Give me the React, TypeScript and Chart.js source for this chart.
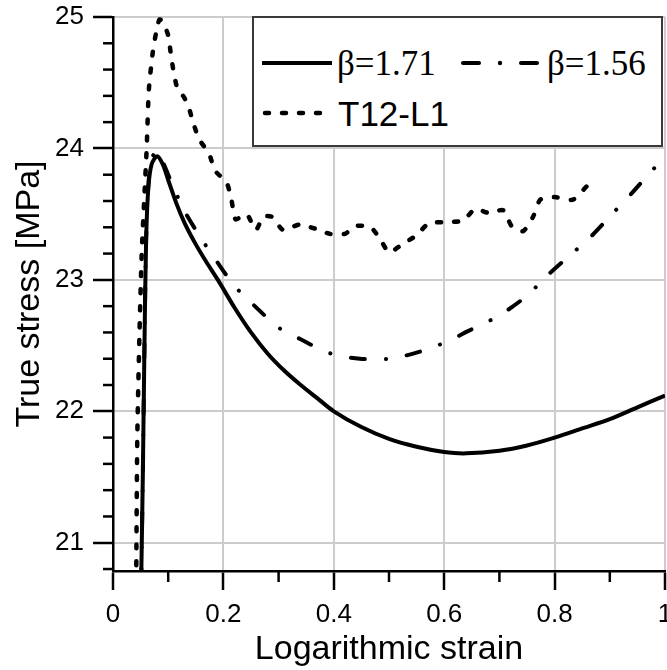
import React, { useEffect, useRef } from "react";
import { Chart, registerables } from "chart.js";
Chart.register(...registerables);

// beta = 1.71 (solid)
const strain171 = [0.051, 0.054, 0.057, 0.06, 0.064, 0.07, 0.08, 0.09, 0.1, 0.115, 0.13, 0.15, 0.17, 0.19, 0.22, 0.25, 0.28, 0.31, 0.34, 0.37, 0.4, 0.45, 0.5, 0.55, 0.6, 0.64, 0.7, 0.75, 0.8, 0.85, 0.9, 0.95, 1.0];
const stress171 = [20.7, 21.5, 22.5, 23.3, 23.7, 23.88, 23.94, 23.88, 23.76, 23.58, 23.43, 23.27, 23.13, 23.0, 22.79, 22.6, 22.44, 22.31, 22.2, 22.1, 22.0, 21.88, 21.79, 21.73, 21.69, 21.68, 21.7, 21.74, 21.8, 21.87, 21.94, 22.03, 22.12];

// beta = 1.56 (dash-dot)
const strain156 = [0.051, 0.054, 0.057, 0.06, 0.064, 0.07, 0.08, 0.09, 0.1, 0.109, 0.13, 0.159, 0.188, 0.221, 0.257, 0.299, 0.339, 0.394, 0.447, 0.5, 0.553, 0.605, 0.643, 0.7, 0.75, 0.786, 0.826, 0.866, 0.904, 0.94, 0.976, 1.0];
const stress156 = [20.7, 21.5, 22.5, 23.3, 23.72, 23.92, 23.98, 23.9, 23.8, 23.71, 23.52, 23.32, 23.14, 22.95, 22.8, 22.64, 22.55, 22.44, 22.4, 22.4, 22.45, 22.53, 22.61, 22.73, 22.88, 23.03, 23.18, 23.33, 23.5, 23.66, 23.83, 23.93];

// T12-L1 experiment (dotted)
const strainExp = [0.042, 0.044, 0.048, 0.052, 0.057, 0.061, 0.065, 0.072, 0.078, 0.084, 0.09, 0.1, 0.105, 0.11, 0.117, 0.127, 0.136, 0.145, 0.156, 0.174, 0.185, 0.206, 0.215, 0.222, 0.242, 0.259, 0.272, 0.288, 0.308, 0.337, 0.366, 0.393, 0.42, 0.44, 0.467, 0.484, 0.5, 0.524, 0.55, 0.572, 0.603, 0.634, 0.656, 0.68, 0.707, 0.722, 0.743, 0.761, 0.774, 0.8, 0.833, 0.86];
const stressExp = [20.7, 21.8, 22.6, 23.2, 23.65, 24.0, 24.45, 24.73, 24.88, 24.98, 24.97, 24.86, 24.71, 24.58, 24.45, 24.4, 24.33, 24.2, 24.07, 23.96, 23.83, 23.74, 23.6, 23.46, 23.5, 23.38, 23.48, 23.48, 23.38, 23.42, 23.39, 23.35, 23.35, 23.41, 23.4, 23.31, 23.21, 23.27, 23.34, 23.43, 23.44, 23.45, 23.54, 23.51, 23.53, 23.41, 23.37, 23.48, 23.61, 23.63, 23.61, 23.72];

const xTickValues = [0, 0.2, 0.4, 0.6, 0.8, 1];
const xTickLabels = ["0", "0.2", "0.4", "0.6", "0.8", "1"];
const xMinorTicks = [0.1, 0.3, 0.5, 0.7, 0.9];
const yTickValues = [21, 22, 23, 24, 25];
const yTickLabels = ["21", "22", "23", "24", "25"];
const yMinorTicks = [20.8, 21.2, 21.4, 21.6, 21.8, 22.2, 22.4, 22.6, 22.8, 23.2, 23.4, 23.6, 23.8, 24.2, 24.4, 24.6, 24.8];
const legendLabels = ["\u03b2=1.71", "\u03b2=1.56", "T12-L1"];
const xTitle = "Logarithmic strain";
const yTitle = "True stress [MPa]";

const SANS = "'Liberation Sans', Arial, sans-serif";
const SERIF = "'Liberation Serif', 'Times New Roman', serif";

const toPoints = (xs: number[], ys: number[]) => xs.map((x, i) => ({ x, y: ys[i] }));

const minorTicksPlugin = {
  id: "minorTicks",
  afterDraw(chart: any) {
    const { ctx, chartArea, scales } = chart;
    const x = scales.x;
    const y = scales.y;
    ctx.save();
    ctx.strokeStyle = "#000";
    ctx.lineWidth = 2.5;
    yMinorTicks.forEach((v) => {
      const py = y.getPixelForValue(v);
      ctx.beginPath();
      ctx.moveTo(chartArea.left - 10, py);
      ctx.lineTo(chartArea.left, py);
      ctx.stroke();
    });
    xMinorTicks.forEach((v) => {
      const px = x.getPixelForValue(v);
      ctx.beginPath();
      ctx.moveTo(px, chartArea.bottom);
      ctx.lineTo(px, chartArea.bottom + 11);
      ctx.stroke();
    });
    ctx.restore();
  },
};

export default function App() {
  const ref = useRef<HTMLCanvasElement | null>(null);

  useEffect(() => {
    if (!ref.current) return;
    const chart = new Chart(ref.current, {
      type: "line",
      data: {
        datasets: [
          {
            label: legendLabels[0],
            data: toPoints(strain171, stress171),
            borderColor: "#000",
            borderWidth: 4,
            tension: 0.3,
            pointRadius: 0,
            fill: false,
          },
          {
            label: legendLabels[1],
            data: toPoints(strain156, stress156),
            borderColor: "#000",
            borderWidth: 4,
            borderDash: [14, 21, 0.1, 21],
            borderCapStyle: "round",
            tension: 0.3,
            pointRadius: 0,
            fill: false,
          },
          {
            label: legendLabels[2],
            data: toPoints(strainExp, stressExp),
            borderColor: "#000",
            borderWidth: 4.5,
            borderDash: [4, 13],
            borderCapStyle: "round",
            tension: 0.2,
            pointRadius: 0,
            fill: false,
          },
        ],
      },
      options: {
        responsive: false,
        animation: false,
        devicePixelRatio: 1,
        layout: { padding: { top: 17, right: 15, left: 0, bottom: 0 } },
        plugins: { legend: { display: false }, tooltip: { enabled: false } },
        scales: {
          x: {
            type: "linear",
            min: 0,
            max: 1,
            afterBuildTicks: (s: any) => {
              s.ticks = xTickValues.map((v) => ({ value: v }));
            },
            afterFit: (s: any) => {
              s.height = 99;
              s.paddingLeft = 0;
              s.paddingRight = 0;
            },
            ticks: {
              callback: (_v: any, i: number) => xTickLabels[i],
              font: { size: 26, family: SANS },
              color: "#000",
              padding: 9,
              maxRotation: 0,
              autoSkip: false,
            },
            grid: { color: "#cccccc", lineWidth: 2, tickLength: 19, tickColor: "#000", tickWidth: 2.5 },
            border: { color: "#000", width: 2.5 },
            title: { display: true, text: xTitle, font: { size: 34, family: SANS }, color: "#000", padding: 0 },
          },
          y: {
            type: "linear",
            min: 20.785,
            max: 25,
            afterBuildTicks: (s: any) => {
              s.ticks = yTickValues.map((v) => ({ value: v }));
            },
            afterFit: (s: any) => {
              s.width = 113;
              s.paddingTop = 0;
              s.paddingBottom = 0;
            },
            ticks: {
              callback: (_v: any, i: number) => yTickLabels[i],
              font: { size: 26, family: SANS },
              color: "#000",
              padding: 9,
              autoSkip: false,
            },
            grid: { color: "#cccccc", lineWidth: 2, tickLength: 20, tickColor: "#000", tickWidth: 2.5 },
            border: { color: "#000", width: 2.5 },
            title: { display: true, text: yTitle, font: { size: 34, family: SANS }, color: "#000", padding: { top: 9, bottom: 0 } },
          },
        },
      },
      plugins: [minorTicksPlugin],
    } as any);
    return () => chart.destroy();
  }, []);

  return (
    <div style={{ position: "absolute", left: 0, top: 0, width: 667, height: 670, overflow: "hidden", background: "#fff" }}>
      <canvas ref={ref} width={680} height={670} style={{ position: "absolute", left: 0, top: 0 }} />
      <div
        style={{
          position: "absolute",
          left: 252,
          top: 16,
          width: 411,
          height: 131,
          boxSizing: "border-box",
          border: "2px solid #3a3a3a",
          background: "#fff",
        }}
      />
      <svg width={667} height={670} style={{ position: "absolute", left: 0, top: 0, pointerEvents: "none" }}>
        <line x1={262} y1={63} x2={332} y2={63} stroke="#000" strokeWidth={4} />
        <line x1={463} y1={63} x2={479} y2={63} stroke="#000" strokeWidth={4} strokeLinecap="round" />
        <circle cx={500} cy={63} r={2.2} fill="#000" />
        <line x1={521} y1={63} x2={537} y2={63} stroke="#000" strokeWidth={4} strokeLinecap="round" />
        <line x1={265} y1={113} x2={326} y2={113} stroke="#000" strokeWidth={4.5} strokeDasharray="4 13" strokeLinecap="round" />
      </svg>
      <span style={{ position: "absolute", left: 337, top: 46, fontFamily: SERIF, fontSize: 35, lineHeight: "35px", color: "#000", whiteSpace: "nowrap" }}>
        {legendLabels[0]}
      </span>
      <span style={{ position: "absolute", left: 547, top: 46, fontFamily: SERIF, fontSize: 35, lineHeight: "35px", color: "#000", whiteSpace: "nowrap" }}>
        {legendLabels[1]}
      </span>
      <span style={{ position: "absolute", left: 338, top: 96, fontFamily: SANS, fontSize: 35, lineHeight: "35px", color: "#000", whiteSpace: "nowrap" }}>
        {legendLabels[2]}
      </span>
    </div>
  );
}
